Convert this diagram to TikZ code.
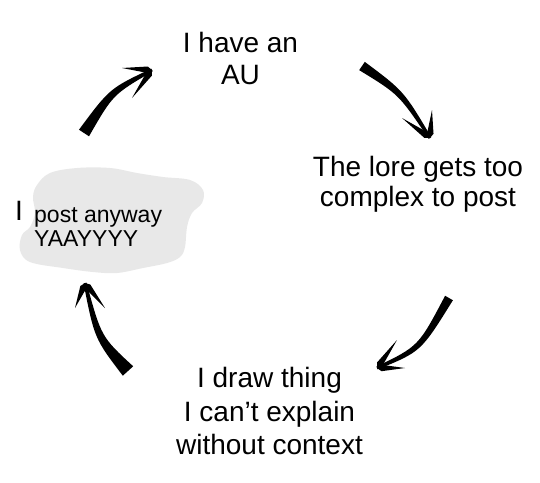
\documentclass[tikz,border=0pt]{standalone}
\usepackage{fontspec}
\setmainfont{Liberation Sans}
\usetikzlibrary{calc}
\definecolor{cloudgray}{HTML}{E8E8E8}
% #1 tail, #2 control, #3 tip, #4 barb 1, #5 barb 2, #6 tail half width, #7 middle half width
\newcommand\sketcharrow[7]{%
  \fill ($(#1)!#6!90:(#2)$) .. controls ($(#2)!#7!90:(#3)$) .. ($(#3)!1.5pt!-90:(#2)$)
     -- ($(#3)!1.5pt!90:(#2)$) .. controls ($(#2)!#7!-90:(#3)$) .. ($(#1)!#6!-90:(#2)$) -- cycle;
  \coordinate (tmpA) at ($(#3)!4.5pt!(#4)$);
  \coordinate (tmpB) at ($(#3)!4.5pt!(#5)$);
  \fill (#4) -- ($(tmpA)!3.2pt!90:(#4)$) -- (#3) -- ($(tmpA)!3.2pt!-90:(#4)$) -- cycle;
  \fill (#5) -- ($(tmpB)!3.2pt!90:(#5)$) -- (#3) -- ($(tmpB)!3.2pt!-90:(#5)$) -- cycle;
}
\begin{document}
\begin{tikzpicture}[x=1pt,y=-1pt,
  lbl/.style={inner sep=0pt, align=center, font=\fontsize{28}{32}\selectfont}]
\useasboundingbox (0,0) rectangle (540,482);
\fill[white] (0,0) rectangle (540,482);
% cloud
\fill[cloudgray] plot[smooth cycle, tension=0.6] coordinates {(37,185) (50,173) (77,168) (110,168) (137,173) (163,177) (190,180) (203,190) (202,203) (192,213) (187,227) (185,247) (180,257) (167,263) (143,268) (117,273) (93,272) (63,268) (30,262) (20,250) (22,235) (30,227) (35,213) (33,197)};
% texts
\node[lbl] (au) at (240.5,58.8) {I have an\\AU};
\node[lbl, font=\fontsize{28}{30}\selectfont] (lore) at (418,184.6) {The lore gets too\\complex to post};
\node[lbl, font=\fontsize{28}{33.5}\selectfont] (drawing) at (269.5,411.3) {I draw thing\\I can’t explain\\without context};
\node[inner sep=0pt, anchor=base west, font=\fontsize{28}{32}\selectfont] (i) at (15,220) {I};
\node[inner sep=0pt, anchor=north west, align=left, font=\fontsize{23}{24}\selectfont] (post) at (34,207) {post anyway\\YAAYYYY};
% arrow coordinates
\coordinate (a1t) at (84,133);  \coordinate (a1c) at (111.3,91.5); \coordinate (a1p) at (152,70);
\coordinate (a1b) at (122,68);  \coordinate (a1d) at (132,98);
\coordinate (a2t) at (362,66);  \coordinate (a2c) at (401.3,92.7); \coordinate (a2p) at (430,138);
\coordinate (a2b) at (402,118); \coordinate (a2d) at (432,110);
\coordinate (a3t) at (449,298); \coordinate (a3c) at (419.7,349);  \coordinate (a3p) at (377,368);
\coordinate (a3b) at (397,340); \coordinate (a3d) at (405,368);
\coordinate (a4t) at (128,371); \coordinate (a4c) at (97.9,337.7); \coordinate (a4p) at (85,283);
\coordinate (a4b) at (75,308);  \coordinate (a4d) at (105,308);
\sketcharrow{a1t}{a1c}{a1p}{a1b}{a1d}{6pt}{3.5pt}
\sketcharrow{a2t}{a2c}{a2p}{a2b}{a2d}{5pt}{3pt}
\sketcharrow{a3t}{a3c}{a3p}{a3b}{a3d}{4.5pt}{3pt}
\sketcharrow{a4t}{a4c}{a4p}{a4b}{a4d}{7pt}{3.5pt}
\end{tikzpicture}
\end{document}
